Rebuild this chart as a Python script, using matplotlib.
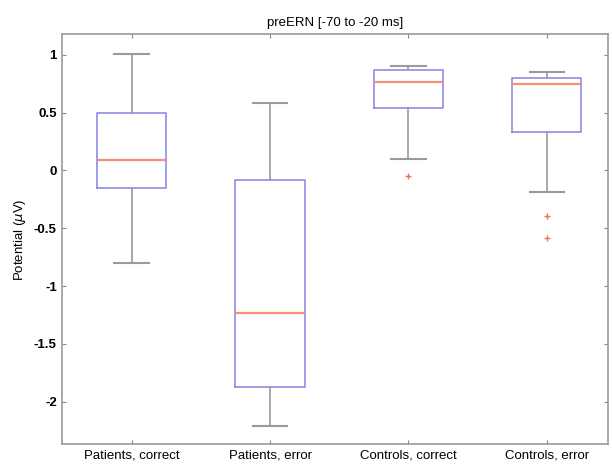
import matplotlib
matplotlib.use('Agg')
import matplotlib.pyplot as plt

# dados (potencial em microvolts)
categorias = ['Patients, correct', 'Patients, error', 'Controls, correct', 'Controls, error']
whisker_baixo = [-0.80, -2.21, 0.10, -0.19]
q1 = [-0.154, -1.87, 0.538, 0.33]
medianas = [0.09, -1.23, 0.763, 0.745]
q3 = [0.495, -0.08, 0.87, 0.80]
whisker_alto = [1.01, 0.58, 0.907, 0.85]
outliers = [[], [], [-0.048], [-0.39, -0.58]]

plt.rcParams['font.family'] = ['Liberation Sans', 'DejaVu Sans']

fig = plt.figure(figsize=(6.12, 4.68), dpi=100)
ax = fig.add_axes([0.102, 0.0506, 0.891, 0.8764])

stats = []
for i, nome in enumerate(categorias):
    stats.append(dict(label=nome, whislo=whisker_baixo[i], q1=q1[i], med=medianas[i],
                      q3=q3[i], whishi=whisker_alto[i], fliers=outliers[i]))

ax.bxp(stats, positions=range(1, len(categorias) + 1), widths=0.5,
       showfliers=True, patch_artist=False,
       boxprops=dict(color='#8c8ce6', linewidth=1.2),
       medianprops=dict(color='#f4907c', linewidth=1.6),
       whiskerprops=dict(color='#9a9a9a', linewidth=1.2),
       capprops=dict(color='#9a9a9a', linewidth=1.5),
       capwidths=0.25,
       flierprops=dict(marker='+', markeredgecolor='#f07060', markersize=5,
                       linestyle='none'))

ax.set_xlim(0.5, 4.44)
ax.set_ylim(-2.37, 1.18)
ax.set_yticks([-2, -1.5, -1, -0.5, 0, 0.5, 1])
ax.set_yticklabels(['-2', '-1.5', '-1', '-0.5', '0', '0.5', '1'], fontweight='bold')
ax.set_xticklabels(categorias, fontsize=9.5)
ax.tick_params(direction='in', top=True, right=True, length=3, color='#888888',
               labelsize=9.5, pad=4)
for lado in ax.spines.values():
    lado.set_color('#999999')
    lado.set_linewidth(1.2)

ax.set_title('preERN [-70 to -20 ms]', fontsize=9.5, pad=6)
ax.set_ylabel('Potential ($\\mu$V)', fontsize=9.5)

fig.savefig('out.png', dpi=100)
